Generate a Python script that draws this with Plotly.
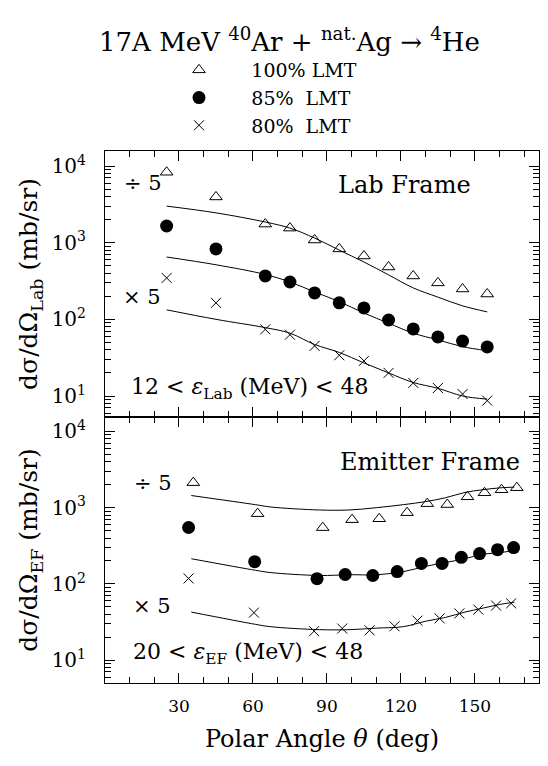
import plotly.graph_objects as go
from plotly.subplots import make_subplots

# ---------------- data ----------------
# Lab frame (top panel)
x_lab = [25, 45, 65, 75, 85, 95, 105, 115, 125, 135, 145, 155]
lab_100 = [8300, 3950, 1750, 1550, 1085, 830, 670, 482, 368, 299, 249, 214]
lab_85 = [1650, 830, 368, 307, 221, 164, 141, 98, 75, 59, 52, 43.7]
lab_80 = [347, 164, 74, 63, 45, 34, 28.7, 20, 14.8, 12.7, 10.6, 8.7]

x_lab_fit = [25, 45, 65, 75, 85, 95, 105, 115, 125, 135, 145, 155]
lab_fit_100 = [3000, 2450, 1860, 1550, 1150, 800, 560, 380, 257, 195, 150, 125]
lab_fit_85 = [650, 515, 385, 307, 228, 170, 121, 89, 66, 54, 44, 39]
lab_fit_80 = [133, 100, 78, 66, 47, 37, 27, 20, 15, 12.6, 10, 9.1]

# Emitter frame (bottom panel)
x_ef_100 = [35.8, 61.9, 88.3, 100.2, 111.2, 122.5, 130.7, 138.8, 147, 153.9, 160.8, 167]
ef_100 = [2130, 835, 548, 697, 716, 860, 1130, 1100, 1390, 1570, 1720, 1830]
x_ef_85 = [33.9, 60.7, 86, 97.4, 108.6, 118.5, 128.3, 136.7, 144.5, 151.9, 159.2, 165.7]
ef_85 = [550, 196, 117, 133, 129, 145, 186, 186, 223, 250, 281, 300]
x_ef_80 = [33.9, 60.4, 84.8, 96.2, 107.3, 117.4, 126.7, 135.7, 143.7, 151.4, 158.6, 164.7]
ef_80 = [118, 42, 24, 26, 24.6, 27.8, 33, 35.3, 41, 46, 52, 55.6]

x_ef_fit = [35, 61, 67, 87, 99, 110, 121, 130, 138, 146, 153, 160, 166]
ef_fit_100 = [1445, 1096, 1023, 933, 933, 1000, 1096, 1202, 1349, 1585, 1718, 1820, 1862]
ef_fit_85 = [214, 151, 141, 129, 132, 132, 145, 170, 191, 214, 245, 257, 275]
ef_fit_80 = [42.7, 29.5, 27.5, 25.1, 25.1, 26.3, 27.5, 32.4, 36.3, 42.7, 47.9, 53.7, 57.5]

x_tickvals = [30, 60, 90, 120, 150]
y_tickvals = [10, 100, 1000, 10000]
y_ticktext = ["10<sup>1</sup>", "10<sup>2</sup>", "10<sup>3</sup>", "10<sup>4</sup>"]
legend_names = ["100% LMT", "85%  LMT", "80%  LMT"]

# ---------------- figure ----------------
FONT = "DejaVu Serif"
fig = make_subplots(rows=2, cols=1, shared_xaxes=True, vertical_spacing=0)

tri = dict(symbol="triangle-up-open", size=11, color="black", line=dict(width=1, color="black"))
dot = dict(symbol="circle", size=13, color="black")
crs = dict(symbol="x-thin-open", size=10, color="black", line=dict(width=1, color="black"))
ln = dict(color="black", width=1)
PAD = "\u200b\u2003\u2002\u2009"

# top panel
fig.add_trace(go.Scatter(x=x_lab_fit, y=lab_fit_100, mode="lines", line=ln, line_shape="spline", showlegend=False), 1, 1)
fig.add_trace(go.Scatter(x=x_lab_fit, y=lab_fit_85, mode="lines", line=ln, line_shape="spline", showlegend=False), 1, 1)
fig.add_trace(go.Scatter(x=x_lab_fit, y=lab_fit_80, mode="lines", line=ln, line_shape="spline", showlegend=False), 1, 1)
fig.add_trace(go.Scatter(x=x_lab, y=lab_100, mode="markers", marker=tri, name=PAD + legend_names[0], legendgroup="a"), 1, 1)
fig.add_trace(go.Scatter(x=x_lab, y=lab_85, mode="markers", marker=dot, name=PAD + legend_names[1], legendgroup="b"), 1, 1)
fig.add_trace(go.Scatter(x=x_lab, y=lab_80, mode="markers", marker=crs, name=PAD + legend_names[2], legendgroup="c"), 1, 1)

# bottom panel
fig.add_trace(go.Scatter(x=x_ef_fit, y=ef_fit_100, mode="lines", line=ln, line_shape="spline", showlegend=False), 2, 1)
fig.add_trace(go.Scatter(x=x_ef_fit, y=ef_fit_85, mode="lines", line=ln, line_shape="spline", showlegend=False), 2, 1)
fig.add_trace(go.Scatter(x=x_ef_fit, y=ef_fit_80, mode="lines", line=ln, line_shape="spline", showlegend=False), 2, 1)
fig.add_trace(go.Scatter(x=x_ef_100, y=ef_100, mode="markers", marker=tri, showlegend=False), 2, 1)
fig.add_trace(go.Scatter(x=x_ef_85, y=ef_85, mode="markers", marker=dot, showlegend=False), 2, 1)
fig.add_trace(go.Scatter(x=x_ef_80, y=ef_80, mode="markers", marker=crs, showlegend=False), 2, 1)

xax = dict(range=[0, 176], tickvals=x_tickvals, ticks="inside", ticklen=10, tickwidth=1,
           tickcolor="black", showline=True, linecolor="black", linewidth=1, mirror="allticks",
           showgrid=False, zeroline=False,
           minor=dict(dtick=10, tick0=0, ticks="inside", ticklen=6, tickcolor="black", showgrid=False),
           tickfont=dict(family=FONT, size=17, color="black"))
fig.update_xaxes(**xax)
fig.update_xaxes(showticklabels=False, row=1, col=1)
fig.update_xaxes(ticklabelstandoff=8,
                 title=dict(text="Polar Angle <i>θ</i> (deg)", font=dict(family=FONT, size=24, color="black"),
                            standoff=14), row=2, col=1)

yax = dict(type="log", tickmode="array", tickvals=y_tickvals, ticktext=y_ticktext,
           ticks="inside", ticklen=10, tickwidth=1, tickcolor="black",
           showline=True, linecolor="black", linewidth=1, mirror="allticks", showgrid=False,
           zeroline=False, ticklabelstandoff=14,
           minor=dict(dtick="D1", ticks="inside", ticklen=6, tickcolor="black", showgrid=False),
           tickfont=dict(family=FONT, size=20, color="black"))
fig.update_yaxes(**yax)
fig.update_yaxes(range=[0.726, 4.196], row=1, col=1,
                 title=dict(text="dσ/dΩ<sub>Lab</sub> (mb/sr)", font=dict(family=FONT, size=25, color="black"), standoff=6))
fig.update_yaxes(range=[0.70, 4.19], row=2, col=1,
                 title=dict(text="dσ/dΩ<sub>EF</sub> (mb/sr)", font=dict(family=FONT, size=25, color="black"), standoff=6))

def ann(text, x, y, xref, yref, size=22, xanchor="center"):
    fig.add_annotation(text=text, x=x, y=y, xref=xref, yref=yref, showarrow=False,
                       xanchor=xanchor, yanchor="middle",
                       font=dict(family=FONT, size=size, color="black"))

def px(xp):  # pixel -> x domain fraction
    return (xp - 105) / 434

def pyt(yp):  # pixel -> top panel domain fraction
    return (417 - yp) / 266

def pyb(yp):  # pixel -> bottom panel domain fraction
    return (683 - yp) / 266

# panel texts
ann("Lab Frame", px(404), pyt(185), "x domain", "y domain", 24)
ann("÷ 5", px(122), pyt(183), "x domain", "y domain", 21, "left")
ann("× 5", px(121), pyt(297), "x domain", "y domain", 21, "left")
ann("12 &lt; <i>ε</i><sub>Lab</sub> (MeV) &lt; 48", px(250), pyt(388), "x domain", "y domain", 22)

ann("Emitter Frame", px(430), pyb(462), "x2 domain", "y2 domain", 24)
ann("÷ 5", px(132), pyb(483), "x2 domain", "y2 domain", 21, "left")
ann("× 5", px(131), pyb(606), "x2 domain", "y2 domain", 21, "left")
ann("20 &lt; <i>ε</i><sub>EF</sub> (MeV) &lt; 48", px(248), pyb(653), "x2 domain", "y2 domain", 22)

# title
fig.add_annotation(text="17A MeV <sup>40</sup>Ar + <sup>nat.</sup>Ag → <sup>4</sup>He",
                   x=px(289), y=(683 - 40) / 532, xref="paper", yref="paper", showarrow=False,
                   xanchor="center", yanchor="middle",
                   font=dict(family=FONT, size=26, color="black"))

fig.update_layout(
    width=548, height=766,
    margin=dict(l=105, r=9, t=151, b=83),
    paper_bgcolor="white", plot_bgcolor="white",
    showlegend=True,
    legend=dict(x=px(179), y=(683 - 51) / 532, xanchor="left", yanchor="top",
                font=dict(family=FONT, size=19, color="black"),
                bgcolor="rgba(0,0,0,0)", tracegroupgap=0),
)

fig.write_html("out.html")
